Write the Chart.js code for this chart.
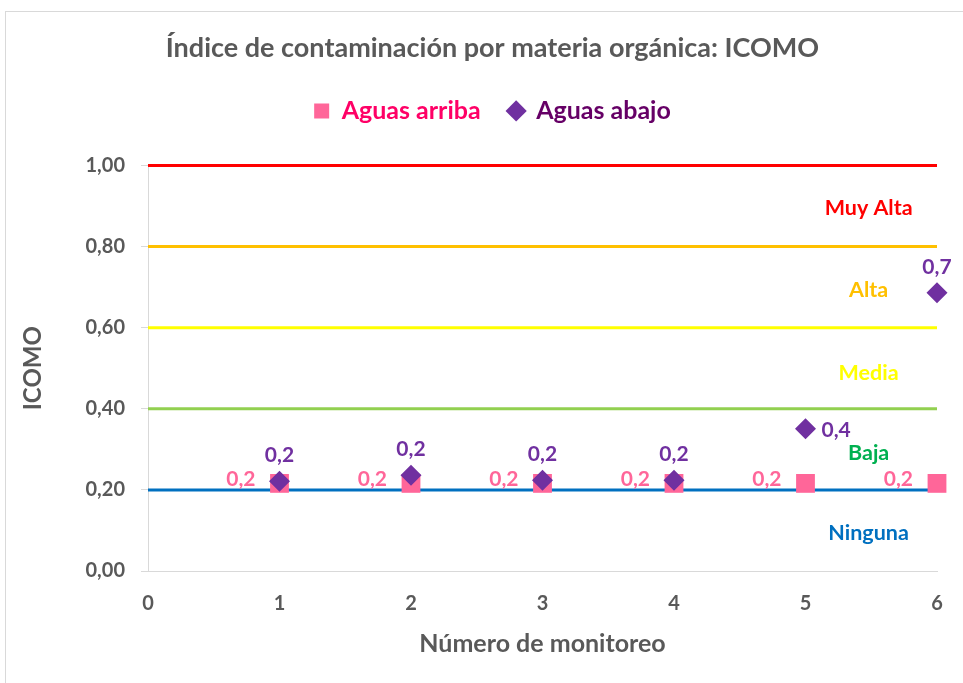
<!DOCTYPE html>
<html lang="es">
<head>
    <meta charset="UTF-8">
    <title>ICOMO</title>
    <style>
        body, html {
            margin: 0;
            background: #fff;
            overflow: hidden;
        }
        .frame {
            position: absolute;
            left: 5px;
            top: 11px;
            width: 1000px;
            height: 720px;
            border: 1px solid #d9d9d9;
        }
        .chart-box {
            position: absolute;
            left: 0;
            top: 0;
            width: 985px;
            height: 683px;
        }
    </style>
</head>
<body>
<div class="frame"></div>
<div class="chart-box">
    <canvas id="icomoChart"></canvas>
</div>

<script src="https://cdn.jsdelivr.net/npm/chart.js"></script>
<script>

// datos
const monitoreos = [1, 2, 3, 4, 5, 6];
const aguasArriba = [0.216, 0.216, 0.216, 0.216, 0.216, 0.216];
const aguasAbajo = [0.221, 0.236, 0.224, 0.224, 0.351, 0.686];

// limites de las clases de contaminacion
const limites = [1.0, 0.8, 0.6, 0.4, 0.2];
const limiteColores = ['#ff0000', '#ffc000', '#ffff00', '#92d050', '#0070c0'];
const clases = ['Muy Alta', 'Alta', 'Media', 'Baja', 'Ninguna'];
const claseColores = ['#ff0000', '#ffc000', '#ffff00', '#00b050', '#0070c0'];
const claseY = [0.895, 0.693, 0.489, 0.29, 0.093];
const claseX = 5.48;

const FONT = 'Lato, "Noto Sans", sans-serif';
const GRIS = '#595959';

function coma(v, dec) {
    return v.toFixed(dec).replace('.', ',');
}

const puntos = (ys) => monitoreos.map((x, i) => ({x: x, y: ys[i]}));

const lineas = limites.map((v, i) => ({
    type: 'line',
    label: 'limite ' + v,
    data: [{x: 0, y: v}, {x: 6, y: v}],
    borderColor: limiteColores[i],
    borderWidth: 3,
    pointRadius: 0,
    clip: false,
    order: 3
}));

// etiquetas de datos y de clases
const etiquetasPlugin = {
    id: 'etiquetas',
    afterDatasetsDraw(chart) {
        const ctx = chart.ctx;
        const xs = chart.scales.x;
        const ys = chart.scales.y;
        ctx.save();
        ctx.textBaseline = 'middle';

        // clases
        ctx.font = 'bold 21.5px ' + FONT;
        clases.forEach((c, i) => {
            ctx.fillStyle = claseColores[i];
            ctx.textAlign = 'center';
            ctx.fillText(c, xs.getPixelForValue(claseX), ys.getPixelForValue(claseY[i]));
        });

        ctx.font = 'bold 21px ' + FONT;
        // aguas arriba: a la izquierda
        chart.getDatasetMeta(0).data.forEach((p, i) => {
            ctx.fillStyle = '#ff6699';
            ctx.textAlign = 'right';
            ctx.fillText(coma(aguasArriba[i], 1), p.x - 24, p.y - 4);
        });

        // aguas abajo: arriba, salvo el 5 a la derecha
        chart.getDatasetMeta(1).data.forEach((p, i) => {
            ctx.fillStyle = '#7030a0';
            if (i === 4) {
                ctx.textAlign = 'left';
                ctx.fillText(coma(aguasAbajo[i], 1), p.x + 16, p.y + 2);
            } else {
                ctx.textAlign = 'center';
                ctx.fillText(coma(aguasAbajo[i], 1), p.x, p.y - 26);
            }
        });
        ctx.restore();
    }
};

const ctx = document.getElementById('icomoChart').getContext('2d');
new Chart(ctx, {
    type: 'scatter',
    data: {
        datasets: [
            {
                label: 'Aguas arriba',
                data: puntos(aguasArriba),
                pointStyle: 'rect',
                pointRadius: 13.3,
                pointHoverRadius: 13.3,
                backgroundColor: '#ff6699',
                borderColor: '#ff6699',
                borderWidth: 0,
                clip: false,
                order: 2
            },
            {
                label: 'Aguas abajo',
                data: puntos(aguasAbajo),
                pointStyle: 'rectRot',
                pointRadius: 10.5,
                pointHoverRadius: 10.5,
                backgroundColor: '#7030a0',
                borderColor: '#7030a0',
                borderWidth: 0,
                clip: false,
                order: 1
            },
            ...lineas
        ]
    },
    options: {
        responsive: true,
        maintainAspectRatio: false,
        animation: false,
        layout: {
            padding: 0
        },
        scales: {
            x: {
                type: 'linear',
                min: 0,
                max: 6,
                ticks: {
                    stepSize: 1,
                    color: GRIS,
                    font: {family: FONT, size: 20, weight: 'bold'},
                    padding: 21
                },
                grid: {display: true, drawOnChartArea: false, drawTicks: false},
                border: {display: true, color: '#d9d9d9', width: 1},
                title: {
                    display: true,
                    text: 'Número de monitoreo',
                    color: GRIS,
                    font: {family: FONT, size: 25, weight: 'bold'},
                    padding: {top: 0, bottom: 24}
                },
                afterFit(s) { s.height = 112; }
            },
            y: {
                min: 0,
                max: 1,
                ticks: {
                    stepSize: 0.2,
                    color: GRIS,
                    font: {family: FONT, size: 20, weight: 'bold'},
                    padding: 16,
                    callback: (v) => coma(v, 2)
                },
                grid: {display: true, drawOnChartArea: false, tickLength: 7, color: '#d9d9d9'},
                border: {display: true, color: '#d9d9d9', width: 1},
                title: {
                    display: true,
                    text: 'ICOMO',
                    color: GRIS,
                    font: {family: FONT, size: 24, weight: 'bold'},
                    padding: {top: 19}
                },
                afterFit(s) { s.width = 148; }
            },
            // eje vacio a la derecha, solo deja margen
            margen: {
                type: 'linear',
                axis: 'y',
                position: 'right',
                ticks: {display: false},
                grid: {display: false},
                border: {display: false},
                afterFit(s) { s.width = 48; }
            }
        },
        plugins: {
            title: {
                display: true,
                text: 'Índice de contaminación por materia orgánica: ICOMO',
                color: GRIS,
                font: {family: FONT, size: 27, weight: 'bold'},
                padding: {top: 32, bottom: 6}
            },
            // espacio vacio entre la leyenda y el grafico
            subtitle: {
                display: true,
                text: '',
                weight: 500,
                font: {size: 10, lineHeight: 1},
                padding: {top: 0, bottom: 22}
            },
            legend: {
                display: true,
                position: 'top',
                labels: {
                    filter: (item) => item.datasetIndex < 2,
                    sort: (a, b) => a.datasetIndex - b.datasetIndex,
                    usePointStyle: true,
                    boxWidth: 15,
                    boxHeight: 15,
                    padding: 28,
                    font: {family: FONT, size: 25, weight: 'bold'},
                    generateLabels(chart) {
                        const items = Chart.defaults.plugins.legend.labels.generateLabels(chart);
                        const colores = ['#ff0066', '#660066'];
                        items.forEach((it) => {
                            if (it.datasetIndex < 2) it.fontColor = colores[it.datasetIndex];
                        });
                        return items;
                    }
                }
            },
            tooltip: {enabled: false}
        }
    },
    plugins: [etiquetasPlugin]
});

</script>
</body>
</html>
